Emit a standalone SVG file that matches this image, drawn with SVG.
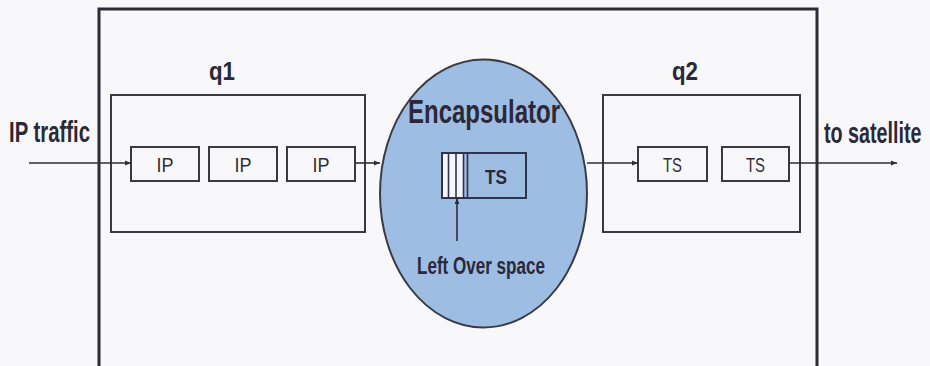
<svg xmlns="http://www.w3.org/2000/svg" width="930" height="366" viewBox="0 0 930 366">
<style>
.bg{fill:#f8f8fa}
.frame{fill:none;stroke:#2e2b36;stroke-width:3}
.queue{fill:none;stroke:#3a3a3e;stroke-width:2}
.cell{fill:#f8f8fa;stroke:#3a3a3e;stroke-width:2}
.lbl{font-family:"Liberation Sans",Arial,sans-serif;font-weight:bold;fill:#2b2838}
.cl{font-family:"Liberation Sans",Arial,sans-serif;fill:#2f2f33;font-size:21px;text-anchor:middle}
.conn{fill:none;stroke:#2f2f33;stroke-width:1.6;marker-end:url(#ah)}
</style>
<defs>
<marker id="ah" viewBox="0 0 10 10" refX="10" refY="5" markerWidth="4" markerHeight="4" orient="auto" markerUnits="strokeWidth">
<path d="M0,1 L10,5 L0,9 z" fill="#2f2f33"/>
</marker>
</defs>
<rect class="bg" x="0" y="0" width="930" height="366"/>
<g id="system">
<rect class="frame" x="99" y="9" width="718" height="370"/>
</g>
<g id="q1">
<rect class="queue" x="111" y="95" width="254" height="137"/>
<text class="lbl" x="222" y="80" font-size="26" text-anchor="middle" textLength="26" lengthAdjust="spacingAndGlyphs">q1</text>
</g>
<g id="ip1"><rect class="cell" x="131" y="147" width="68" height="34"/><text class="cl" x="165" y="172" textLength="17" lengthAdjust="spacingAndGlyphs">IP</text></g>
<g id="ip2"><rect class="cell" x="209" y="147" width="68" height="34"/><text class="cl" x="243" y="172" textLength="17" lengthAdjust="spacingAndGlyphs">IP</text></g>
<g id="ip3"><rect class="cell" x="287" y="147" width="68" height="34"/><text class="cl" x="321" y="172" textLength="17" lengthAdjust="spacingAndGlyphs">IP</text></g>
<g id="encapsulator">
<ellipse cx="483.5" cy="193.5" rx="103.5" ry="134" fill="#9ebde3" stroke="#3a3a44" stroke-width="2"/>
<text class="lbl" x="484" y="123" font-size="33" text-anchor="middle" textLength="152" lengthAdjust="spacingAndGlyphs">Encapsulator</text>
<rect x="442" y="153" width="84" height="45" fill="#9ebde3" stroke="#2e3350" stroke-width="2"/>
<rect x="443" y="154" width="20" height="43" fill="#f4f6fb"/>
<path d="M448.5,154 V197 M456,154 V197 M463.5,154 V197 M467.5,154 V197" stroke="#2e3350" stroke-width="1.6"/>
<text class="lbl" x="496" y="184" font-size="21" text-anchor="middle" textLength="22" lengthAdjust="spacingAndGlyphs">TS</text>
<text class="lbl" x="481" y="274" font-size="23" text-anchor="middle" textLength="128" lengthAdjust="spacingAndGlyphs">Left Over space</text>
</g>
<g id="q2">
<rect class="queue" x="603" y="95" width="197" height="137"/>
<text class="lbl" x="685" y="80" font-size="26" text-anchor="middle" textLength="26" lengthAdjust="spacingAndGlyphs">q2</text>
</g>
<g id="ts1"><rect class="cell" x="638" y="147" width="69" height="34"/><text class="cl" x="672.5" y="172" textLength="19" lengthAdjust="spacingAndGlyphs">TS</text></g>
<g id="ts2"><rect class="cell" x="722" y="147" width="67" height="34"/><text class="cl" x="755.5" y="172" textLength="19" lengthAdjust="spacingAndGlyphs">TS</text></g>
<g id="labels">
<text class="lbl" x="9" y="142" font-size="29" textLength="81" lengthAdjust="spacingAndGlyphs">IP traffic</text>
<text class="lbl" font-size="29" transform="translate(824,143) scale(0.68,1)">to satellite</text>
</g>
<g id="connectors">
<path class="conn" d="M29,163 H131"/>
<path class="conn" d="M355,163 H380"/>
<path class="conn" d="M587,163 H638"/>
<path class="conn" d="M789,163 H897"/>
<path class="conn" d="M457,241 V198"/>
</g>
</svg>
